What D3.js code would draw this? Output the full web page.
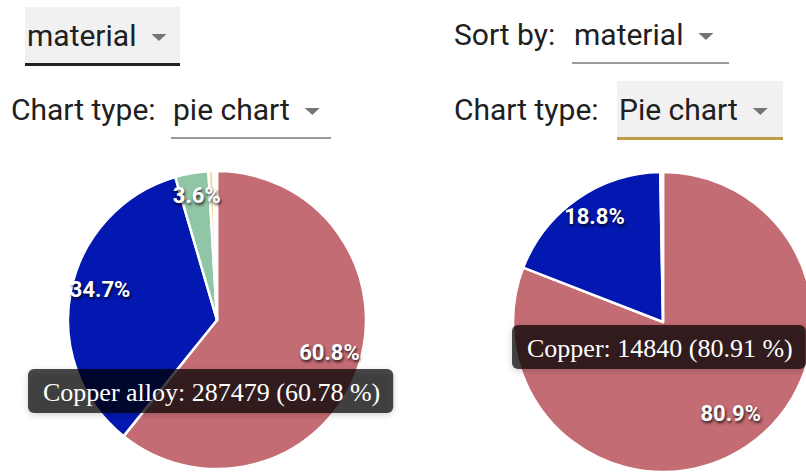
<!DOCTYPE html>
<html lang="en">
<head>
<meta charset="UTF-8">
<title>Material pie charts</title>
<script src="https://d3js.org/d3.v7.min.js"></script>
<style>
    body { margin: 0; background: #fff; overflow: hidden; }
    svg { display: block; font-family: Roboto, "Noto Sans", sans-serif; }
    .ctl { font-size: 30px; fill: #202020; }
    .pct {
        font-size: 22px; font-weight: 700; fill: #fff;
        text-shadow: 1px 2px 3px rgba(0,0,0,0.8);
    }
    .tip text { font-family: "Liberation Serif", "Times New Roman", serif; font-size: 26px; fill: #fff; }
</style>
</head>
<body>
<svg width="806" height="472"></svg>
<script>
    // left chart (all objects)
    const leftNames = ["Copper alloy", "Bronze", "Brass", "Silver", "Other"];
    const leftValues = [287479, 164125, 17027, 2601, 1751];
    // right chart (sorted by material)
    const rightNames = ["Copper", "Bronze", "Other"];
    const rightValues = [14840, 3448, 53];

    const color = d3.scaleOrdinal()
        .domain(["Copper alloy", "Copper", "Bronze", "Brass", "Silver", "Other"])
        .range(["#c46c74", "#c46c74", "#0318b0", "#90c5a6", "#f6d8a2", "#fbfaf8"]);

    const svg = d3.select("svg");

    // ---- controls ----
    function dropdown(x, baseline, label, boxed, lineColor, lineW, width) {
        const g = svg.append("g");
        if (boxed) {
            g.append("rect").attr("x", x - 2).attr("y", baseline - 39)
                .attr("width", width).attr("height", 56).attr("fill", "#f1f1f1");
        }
        const t = g.append("text").attr("class", "ctl").attr("x", x).attr("y", baseline).text(label);
        const tw = t.node().getComputedTextLength();
        const ax = x + tw + 15;
        g.append("path")
            .attr("d", `M${ax},${baseline - 12}h15l-7.5,7z`)
            .attr("fill", "#757575");
        g.append("rect").attr("x", x - 2).attr("y", baseline + 17)
            .attr("width", width).attr("height", lineW).attr("fill", lineColor);
    }
    function label(x, baseline, txt) {
        svg.append("text").attr("class", "ctl").attr("x", x).attr("y", baseline).text(txt);
    }

    dropdown(27, 46, "material", true, "#222", 3, 155);
    label(11, 120, "Chart type:");
    dropdown(173, 120, "pie chart", false, "#9a9a9a", 2, 160);

    label(454, 45, "Sort by:");
    dropdown(574, 45, "material", false, "#9a9a9a", 2, 157);
    label(454, 120, "Chart type:");
    dropdown(619, 120, "Pie chart", true, "#c09a45", 3, 166);

    // ---- pies ----
    const pie = d3.pie().sort(null).value(d => d.value);

    function drawPie(names, values, cx, cy, r, tip) {
        const data = names.map((n, i) => ({name: n, value: values[i]}));
        const total = d3.sum(values);
        const arcs = pie(data);
        const arc = d3.arc().innerRadius(0).outerRadius(r);
        const labelArc = d3.arc().innerRadius(r * 0.8).outerRadius(r * 0.8);
        const g = svg.append("g").attr("transform", `translate(${cx},${cy})`);

        g.selectAll("path.slice").data(arcs).join("path")
            .attr("class", "slice")
            .attr("d", arc)
            .attr("fill", d => color(d.data.name))
            .attr("stroke", "#fff")
            .attr("stroke-width", 2.5)
            .attr("stroke-linejoin", "round");

        // label baseline sits on the centroid
        g.selectAll("text.pct").data(arcs.filter(d => d.value / total > 0.02)).join("text")
            .attr("class", "pct")
            .attr("transform", d => `translate(${labelArc.centroid(d)})`)
            .attr("text-anchor", "middle")
            .text(d => (d.value / total * 100).toFixed(1) + "%");

        // tooltip for the hovered slice
        const hov = arcs[tip.index];
        const tg = svg.append("g").attr("class", "tip");
        const txt = `${hov.data.name}: ${hov.value} (${(hov.value / total * 100).toFixed(2)} %)`;
        const bx = cx + tip.dx, by = cy + tip.dy;
        const rect = tg.append("rect")
            .attr("x", bx).attr("y", by).attr("height", 44).attr("rx", 6)
            .attr("fill", "rgba(0,0,0,0.7)")
            .style("filter", "drop-shadow(0 2px 3px rgba(0,0,0,0.25))");
        const t = tg.append("text").attr("x", bx + 15).attr("y", by + 32).text(txt);
        rect.attr("width", t.node().getComputedTextLength() + 28);
    }

    drawPie(leftNames, leftValues, 217, 320, 149, {index: 0, dx: -189, dy: 49});
    drawPie(rightNames, rightValues, 663, 322, 150, {index: 0, dx: -151, dy: 3});
</script>
</body>
</html>
